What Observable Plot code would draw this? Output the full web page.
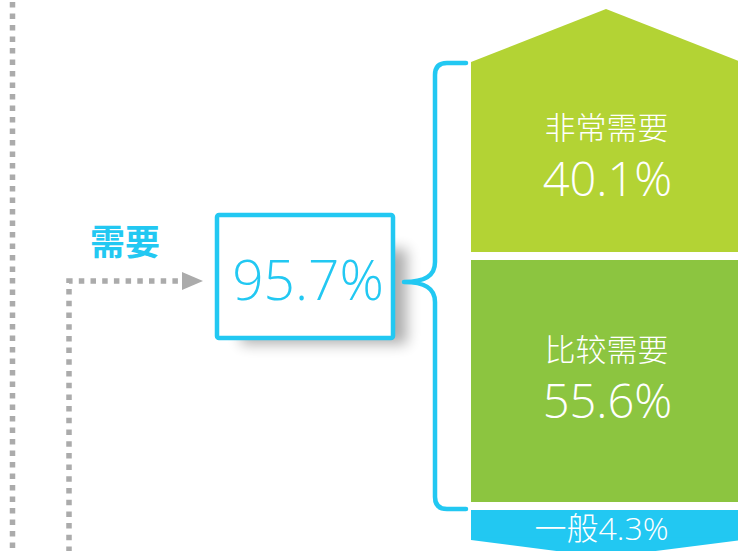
<!DOCTYPE html>
<html><head><meta charset="utf-8">
<script src="https://cdn.jsdelivr.net/npm/d3@7"></script>
<script src="https://cdn.jsdelivr.net/npm/@observablehq/plot@0.6"></script>
<style>
body{margin:0;background:#fff;}
#chart svg{display:block;}
</style></head><body><div id="chart"></div>
<script>
// ---- data ----
const categories = ["非常需要", "比较需要", "一般"];
const values = [40.1, 55.6, 4.3];
const groupLabel = "需要";
const groupSize = 2; // first two categories form "需要"

// ---- styles / layout ----
const colors = ["#b3d334", "#8cc540", "#22c8f2"];
const blue = "#22c8f2";
const grey = "#ababab";
const font = "'Noto Sans CJK SC', 'Noto Sans', sans-serif";
const numFont = "'Open Sans', 'Noto Sans CJK SC', sans-serif";
const L = {x1: 471, x2: 741, yPix: [540, 506, 256, 62], roof: 10.95, tip: -2.2, gap: 4};

// stack bottom-up
let acc = 0;
const stack = [];
for (let i = categories.length - 1; i >= 0; i--) {
  stack.push({c: categories[i], v: values[i], color: colors[i], i, lo: acc, hi: acc + values[i]});
  acc += values[i];
}
const total = acc;
const groupValue = d3.sum(values.slice(0, groupSize));
const xc = (L.x1 + L.x2) / 2;
const topSeg = stack.find(d => d.i === 0);
const botSeg = stack.find(d => d.i === categories.length - 1);
const groupLo = d3.min(stack.filter(d => d.i < groupSize), d => d.lo);

const segMarks = stack.map(d => Plot.rect([d], {
  x1: () => L.x1, x2: () => L.x2, y1: "lo", y2: "hi", fill: d.color,
  insetTop: d.hi < total ? L.gap : 0, insetBottom: d.lo > 0 ? L.gap : 0
}));

const roof = Plot.areaY([
  {x: L.x1, y1: total - 0.5, y2: total},
  {x: xc, y1: total - 0.5, y2: total + L.roof},
  {x: L.x2, y1: total - 0.5, y2: total}
], {x: "x", y1: "y1", y2: "y2", fill: topSeg.color});

const tip = Plot.areaY([
  {x: L.x1, y1: 0.3, y2: 0},
  {x: xc, y1: 0.3, y2: L.tip},
  {x: L.x2, y1: 0.3, y2: 0}
], {x: "x", y1: "y1", y2: "y2", fill: botSeg.color});

const big = stack.filter(d => d.i < groupSize);
const catText = Plot.text(big, {x: () => xc, y: d => (d.lo + d.hi) / 2, text: "c", dy: -30,
  fill: "white", fontSize: 31, fontFamily: font, fontWeight: 300});
const valText = Plot.text(big, {x: () => xc + 1, y: d => (d.lo + d.hi) / 2, text: d => d.v.toFixed(1) + "%", dy: 21,
  fill: "white", fontSize: 47, fontFamily: numFont, fontWeight: 300, letterSpacing: 1.6});
const smallText = Plot.text([botSeg], {x: () => xc - 5, y: d => (d.lo + d.hi) / 2, text: d => d.c + d.v.toFixed(1) + "%", dy: 6,
  fill: "white", fontSize: 32, fontFamily: numFont, fontWeight: 300});

// decorations: brace, box, connectors
function decor(index, scales) {
  const y = scales.y;
  const g = d3.create("svg:g");
  const top = y(total) + 1, bot = y(groupLo) + 3;
  const mid = (y(total) + y(groupLo)) / 2 - 2;
  const bx = 435, tx = 404, ex = 466, r = 12;
  const p = `M${ex},${top} H${bx + r} Q${bx},${top} ${bx},${top + r} V${mid - 20} C${bx},${mid - 6} ${bx - 10},${mid} ${tx},${mid}`
    + ` M${tx},${mid} C${bx - 10},${mid} ${bx},${mid + 6} ${bx},${mid + 20} V${bot - r} Q${bx},${bot} ${bx + r},${bot} H${ex}`;
  // grey dotted connectors
  g.append("line").attr("x1", 12.5).attr("x2", 12.5).attr("y1", 2).attr("y2", 551)
    .attr("stroke", grey).attr("stroke-width", 5.5).attr("stroke-dasharray", "5.5,6");
  g.append("path").attr("d", `M69,551 V${mid - 1} H182`).attr("fill", "none")
    .attr("stroke", grey).attr("stroke-width", 5.5).attr("stroke-dasharray", "5.5,6.2").attr("stroke-dashoffset", 1);
  g.append("path").attr("d", `M182,${mid - 10} L203,${mid - 1} L182,${mid + 8} Z`).attr("fill", grey);
  // box with soft shadow
  const defs = g.append("defs");
  const f = defs.append("filter").attr("id", "sh").attr("x", "-30%").attr("y", "-30%").attr("width", "170%").attr("height", "170%");
  f.append("feGaussianBlur").attr("in", "SourceAlpha").attr("stdDeviation", 7);
  f.append("feOffset").attr("dx", 20).attr("dy", 12).attr("result", "b");
  f.append("feComponentTransfer").append("feFuncA").attr("type", "linear").attr("slope", 0.32);
  const m = f.append("feMerge"); m.append("feMergeNode"); m.append("feMergeNode").attr("in", "SourceGraphic");
  g.append("rect").attr("x", 221).attr("y", mid - 45).attr("width", 166).attr("height", 95)
    .attr("fill", "white").attr("filter", "url(#sh)");
  g.append("rect").attr("x", 217).attr("y", mid - 67).attr("width", 176).attr("height", 123)
    .attr("fill", "white").attr("stroke", blue).attr("stroke-width", 4.5).attr("rx", 2);
  g.append("path").attr("d", p).attr("fill", "none").attr("stroke", blue).attr("stroke-width", 4.5)
    .attr("stroke-linecap", "round").attr("stroke-linejoin", "round");
  g.append("text").attr("x", 308).attr("y", mid - 2).attr("dy", "0.36em").attr("text-anchor", "middle")
    .attr("fill", blue).attr("font-family", numFont).attr("font-weight", 300).attr("font-size", 55)
    .text(groupValue.toFixed(1) + "%");
  g.append("text").attr("x", 125).attr("y", mid - 39).attr("dy", "0.35em").attr("text-anchor", "middle")
    .attr("fill", blue).attr("font-family", font).attr("font-weight", 700).attr("font-size", 35)
    .text(groupLabel);
  return g.node();
}

const chart = Plot.plot({
  width: 738, height: 551,
  margin: 0,
  x: {type: "linear", domain: [0, 738], range: [0, 738], axis: null},
  y: {type: "linear", domain: [0, ...stack.map(d => d.hi)], range: L.yPix, axis: null},
  style: {background: "white", overflow: "hidden"},
  marks: [decor, ...segMarks, roof, tip, catText, valText, smallText]
});
document.getElementById("chart").appendChild(chart);
</script></body></html>
